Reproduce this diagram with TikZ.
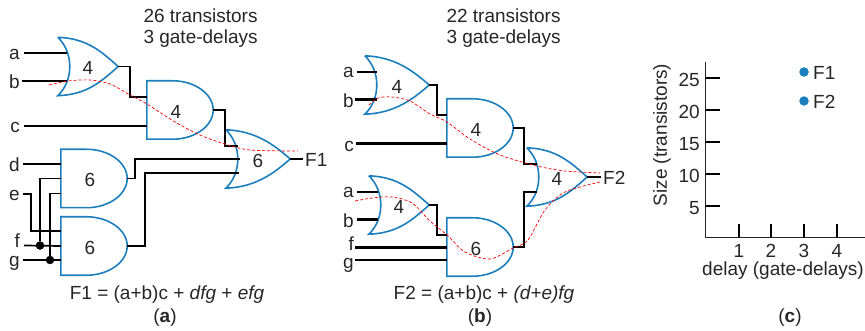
\documentclass[tikz,border=0pt]{standalone}
\usepackage{fontspec}
\setmainfont{Liberation Sans}
\definecolor{gateblue}{HTML}{1B7FBD}
\tikzset{
    orgate/.style={minimum width=60pt, minimum height=58pt, inner sep=0pt, text height=17pt, text depth=0pt,
        append after command={\pgfextra{\draw[gateline]
            (\tikzlastnode.north west) .. controls +(30,1) and +(-16,-14) .. (\tikzlastnode.east)
            .. controls +(-16,14) and +(30,-1) .. (\tikzlastnode.south west)
            .. controls +(16,-15) and +(16,15) .. (\tikzlastnode.north west);}}},
    andgate/.style={minimum width=66pt, minimum height=58pt, inner sep=0pt, text height=17pt, text depth=0pt,
        execute at end node={\hspace{8pt}},
        append after command={\pgfextra{\draw[gateline]
            (\tikzlastnode.north west) -- ([xshift=26pt]\tikzlastnode.north west)
            .. controls +(22,0) and +(0,-16) .. (\tikzlastnode.east)
            .. controls +(0,16) and +(22,0) .. ([xshift=26pt]\tikzlastnode.south west)
            -- (\tikzlastnode.south west) -- cycle;}}}
}
\begin{document}
\begin{tikzpicture}[
    x=1pt, y=-1pt,
    every node/.style={font=\fontsize{19}{21}\selectfont, text=black!85},
    gateline/.style={draw=gateblue, line width=1.6pt},
    wire/.style={draw=black, line width=1.7pt},
    heavy/.style={draw=black, line width=2.3pt},
    critical/.style={draw=red, line width=0.7pt, dash pattern=on 3pt off 2pt},
    junction/.style={draw, fill=black, circle, minimum size=8pt, inner sep=0pt},
    inlabel/.style={anchor=east, inner sep=0pt},
    point/.style={fill=gateblue, circle, minimum size=9.5pt, inner sep=0pt},
    axisline/.style={draw=black!85, line width=1pt},
    tick/.style={draw=black, line width=1.6pt}
]
    \useasboundingbox (0,0) rectangle (865,331);

    % Panel a: title
    \node[anchor=west, align=left] (titlea) at (140,28) {26 transistors\\3 gate-delays};

    % Panel a: gates
    \node[orgate] (ora) at (88,66.5) {4};
    \node[andgate] (anda) at (180,110) {4};
    \node[orgate, minimum width=64pt] (orc) at (258,159) {6};
    \node[andgate] (andb) at (94,178.5) {6};
    \node[andgate] (andc) at (94,246) {6};

    % Panel a: inputs
    \node[inlabel] (la) at (20,54) {a};
    \node[inlabel] (lb) at (20,82) {b};
    \node[inlabel] (lc) at (20,127) {c};
    \node[inlabel] (ld) at (20,165) {d};
    \node[inlabel] (le) at (20,195) {e};
    \node[inlabel] (lf) at (20,241) {f};
    \node[inlabel] (lg) at (20,263) {g};
    \coordinate (ina) at (24,53);
    \coordinate (inb) at (22,81);
    \coordinate (inc) at (24,126);
    \coordinate (ind) at (23,164);
    \coordinate (ine) at (23,194);
    \coordinate (inf) at (24,245.5);
    \coordinate (ing) at (23,260);
    \node[junction] (dotf) at (40,245.5) {};
    \node[junction] (dotg) at (50,260) {};

    \draw[wire] (ina) -- ([shift={(9,-13.5)}]ora.west);
    \draw[wire] (inb) -- ([shift={(9,14.5)}]ora.west);
    \draw[wire] (inc) -- ([yshift=-16pt]anda.west);
    \draw[heavy] (ind) -- ([yshift=14.5pt]andb.west);
    \draw[wire] (ine) -| (31,231) -- ([yshift=15pt]andc.west);
    \draw[wire] (inf) -- (andc.west);
    \draw[heavy] (ing) -- ([yshift=-14pt]andc.west);
    \draw[wire] (dotf) |- (andb.west);
    \draw[wire] (dotg) |- ([yshift=-15pt]andb.west);

    % Panel a: between the gates
    \draw[wire] (ora.east) -- (130,66.5) |- ([yshift=13pt]anda.west);
    \draw[wire] (anda.east) -- (225,110) |- ([shift={(12,-13)}]orc.west);
    \draw[wire] (andb.east) -- (135,178.5) |- ([xshift=14pt]orc.west);
    \draw[wire] (andc.east) -- (145,246) |- ([shift={(13,14)}]orc.west);

    % Panel a: output
    \node[anchor=west, inner sep=0pt] (outa) at (305,160) {F1};
    \draw[heavy] (orc.east) -- (303,159);

    % Panel a: longest path
    \draw[critical] plot[smooth] coordinates {(49,85) (68,81) (90,80) (110,84) (130,95) (147,104) (175,122) (200,135) (225,144) (250,150) (298,151)};

    % Panel a: captions
    \node (eqa) at (167,295) {F1 = (a+b)c + \textit{dfg} + \textit{efg}};
    \node (capa) at (165,318) {(\textbf{a})};

    % Panel b: title
    \node[anchor=west, align=left] (titleb) at (443,28) {22 transistors\\3 gate-delays};

    % Panel b: gates
    \node[orgate, minimum width=64pt] (ord) at (397,85) {4};
    \node[andgate] (andd) at (480,128) {4};
    \node[orgate] (orf) at (557,177) {4};
    \node[orgate] (ore) at (399,205) {4};
    \node[andgate] (ande) at (480,247) {6};

    % Panel b: inputs
    \node[inlabel] (lba) at (354,72) {a};
    \node[inlabel] (lbb) at (354,101) {b};
    \node[inlabel] (lbc) at (354,146) {c};
    \node[inlabel] (lbd) at (354,192) {a};
    \node[inlabel] (lbe) at (354,221) {b};
    \node[inlabel] (lbf) at (354,244) {f};
    \node[inlabel] (lbg) at (354,265) {g};
    \coordinate (ba) at (357,72);
    \coordinate (bb) at (355,99.5);
    \coordinate (bc) at (356,143.5);
    \coordinate (bd) at (357,192);
    \coordinate (be) at (357,219.5);
    \coordinate (bf) at (355,247.5);
    \coordinate (bg) at (355,260);

    \draw[heavy] (ba) -- ([shift={(12,-13)}]ord.west);
    \draw[heavy] (bb) -- ([shift={(12,14.5)}]ord.west);
    \draw[heavy] (bc) -- ([yshift=-15.5pt]andd.west);
    \draw[heavy] (bd) -- ([shift={(9,-13)}]ore.west);
    \draw[heavy] (be) -- ([shift={(9,14.5)}]ore.west);
    \draw[heavy] (bf) -- ([yshift=-0.5pt]ande.west);
    \draw[heavy] (bg) -- ([yshift=-13pt]ande.west);

    % Panel b: between the gates
    \draw[wire] (ord.east) -- (437,85) |- ([yshift=13pt]andd.west);
    \draw[wire] (ore.east) -- (437,205) |- ([yshift=12pt]ande.west);
    \draw[wire] (andd.east) -- (524,128) |- ([shift={(10,-13)}]orf.west);
    \draw[wire] (ande.east) -- (524,247) |- ([shift={(10,15)}]orf.west);

    % Panel b: output
    \node[anchor=west, inner sep=0pt] (outb) at (603,178) {F2};
    \draw[heavy] (orf.east) -- (601,177);

    % Panel b: longest paths
    \draw[critical] plot[smooth] coordinates {(369,105) (378,98) (392,97) (410,101) (430,114) (447,122) (470,139) (500,155) (537,166) (565,171) (600,173)};
    \draw[critical] plot[smooth] coordinates {(355,201) (372,198) (392,197) (412,203) (430,221) (447,235) (465,252) (490,259) (513,248) (528,240) (545,210) (565,192) (600,182)};

    % Panel b: captions
    \node (eqb) at (484,295) {F2 = (a+b)c + \textit{(d+e)fg}};
    \node (capb) at (480,318) {(\textbf{b})};

    % Panel c: axes
    \coordinate (origin) at (705,238);
    \coordinate (ytop) at (705,62);
    \coordinate (xend) at (865,238);
    \draw[axisline] (ytop) -- (origin) -- (xend);

    % Panel c: size ticks
    \draw[tick] (705,78) -- (720,78);
    \draw[tick] (705,110) -- (720,110);
    \draw[tick] (705,142) -- (720,142);
    \draw[tick] (705,174) -- (720,174);
    \draw[tick] (705,206) -- (720,206);
    \node[inlabel] (y25) at (700,80) {25};
    \node[inlabel] (y20) at (700,112) {20};
    \node[inlabel] (y15) at (700,144) {15};
    \node[inlabel] (y10) at (700,176) {10};
    \node[inlabel] (y5) at (700,208) {5};

    % Panel c: delay ticks
    \draw[tick] (739,224) -- (739,238);
    \draw[tick] (771,224) -- (771,238);
    \draw[tick] (804,224) -- (804,238);
    \draw[tick] (837,224) -- (837,238);
    \node (x1) at (739,251) {1};
    \node (x2) at (771,251) {2};
    \node (x3) at (804,251) {3};
    \node (x4) at (837,251) {4};

    % Panel c: points
    \node[point] (pf1) at (804,72) {};
    \node[point] (pf2) at (804,101) {};
    \node[anchor=west, inner sep=0pt] (nf1) at (813,73) {F1};
    \node[anchor=west, inner sep=0pt] (nf2) at (813,102) {F2};

    % Panel c: captions
    \node (xlabel) at (783,271) {delay (gate-delays)};
    \node[rotate=90] (ylabel) at (662,135) {Size (transistors)};
    \node (capc) at (790,318) {(\textbf{c})};
\end{tikzpicture}
\end{document}
